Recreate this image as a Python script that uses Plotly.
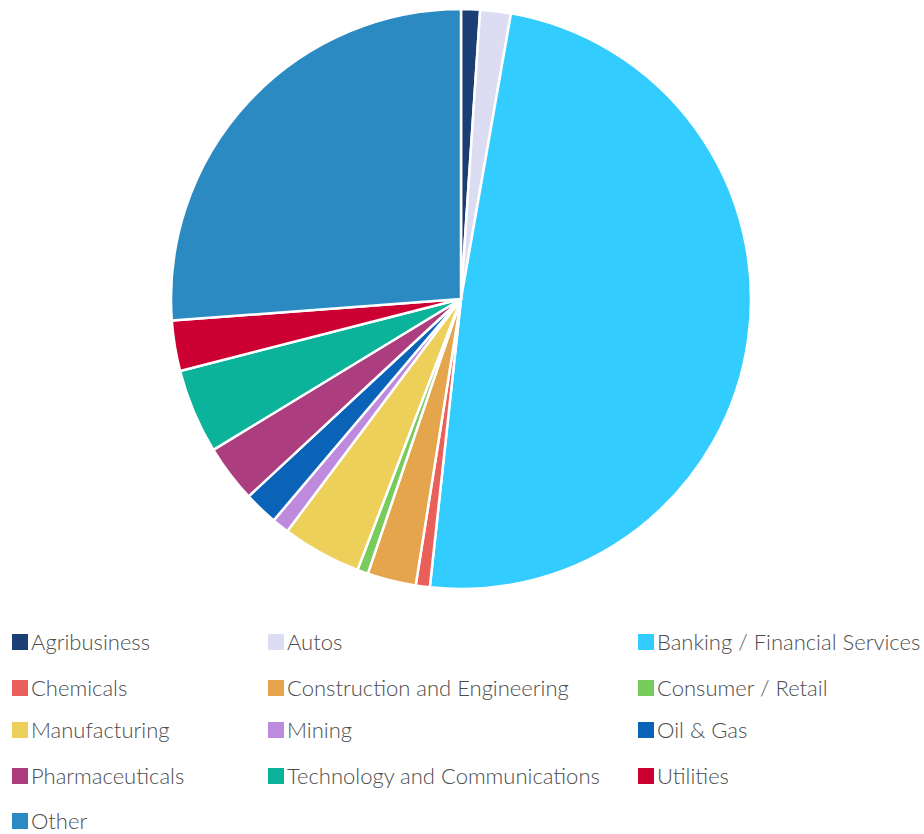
import plotly.graph_objects as go

W, H = 924, 834

sectors = [
    "Agribusiness", "Autos", "Banking / Financial Services",
    "Chemicals", "Construction and Engineering", "Consumer / Retail",
    "Manufacturing", "Mining", "Oil & Gas",
    "Pharmaceuticals", "Technology and Communications", "Utilities",
    "Other",
]
shares = [1.05, 1.7, 48.8, 0.78, 2.7, 0.6, 4.4, 0.95, 1.9, 3.2, 4.7, 2.8, 26.1]
colors = [
    "#1b3e74", "#dcdcf2", "#33ccff",
    "#eb5f5a", "#e5a54c", "#77cc5d",
    "#ecd05a", "#bd8ade", "#0b63b7",
    "#ac3d7e", "#0ab399", "#cc0033",
    "#2b8ac2",
]

fig = go.Figure(
    go.Pie(
        labels=sectors,
        values=shares,
        sort=False,
        direction="clockwise",
        rotation=0,
        marker=dict(colors=colors, line=dict(color="white", width=2.5)),
        textinfo="none",
        hoverinfo="label+percent",
        showlegend=False,
        domain=dict(x=[171 / W, 751 / W], y=[1 - 589 / H, 1 - 9 / H]),
    )
)

# Three-column legend laid out beneath the pie
col_x = [12, 268, 638]
row_y = [642, 688, 730, 776, 821]
shapes, annotations = [], []
for i, (name, col) in enumerate(zip(sectors, colors)):
    cx = col_x[i % 3]
    cy = row_y[i // 3]
    shapes.append(dict(
        type="rect", xref="paper", yref="paper",
        x0=cx / W, x1=(cx + 16) / W,
        y0=1 - (cy + 8) / H, y1=1 - (cy - 8) / H,
        fillcolor=col, line=dict(width=0),
    ))
    annotations.append(dict(
        text=name, xref="paper", yref="paper",
        x=(cx + 17) / W, y=1 - (cy - 1) / H,
        xanchor="left", yanchor="middle", showarrow=False,
        font=dict(family="Lato", size=22, color="#4d4d4d", weight=300),
    ))

fig.update_layout(
    width=W, height=H,
    margin=dict(l=0, r=0, t=0, b=0),
    paper_bgcolor="white",
    plot_bgcolor="white",
    shapes=shapes,
    annotations=annotations,
)

fig.write_html("out.html")
